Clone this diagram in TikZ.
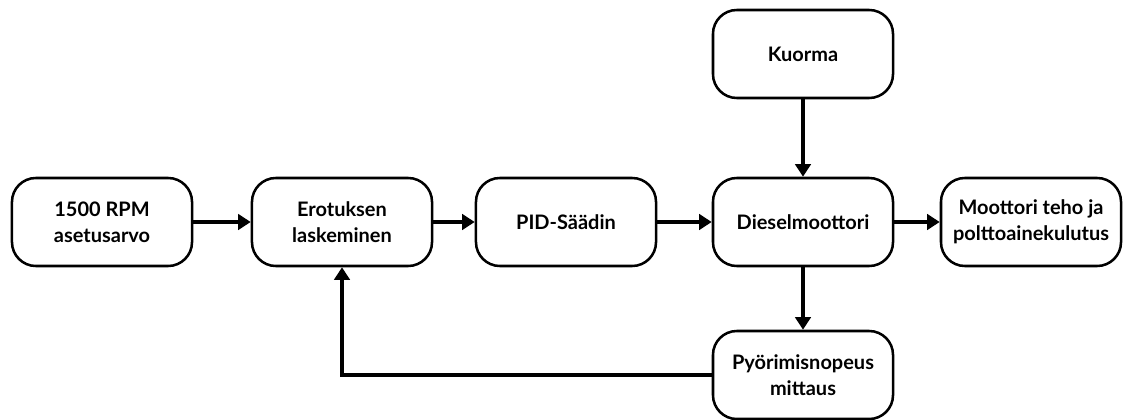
\documentclass[tikz,border=0pt]{standalone}
\usepackage{fontspec}
\setmainfont{Lato}
\usetikzlibrary{arrows.meta}
\tikzset{
	blokki/.style={draw,line width=1.8pt,rounded corners=17pt,minimum width=4.5cm,minimum height=2.2cm,align=center,font=\fontsize{14.2}{18.5}\selectfont\bfseries},
	nuoli/.style={line width=2.6pt,-{Triangle[length=9pt,width=11pt]}}
}
\begin{document}
\begin{tikzpicture}[x=0.025cm,y=-0.025cm]
	\useasboundingbox (0,0) rectangle (1124,420) ;
%%% Lohkot
	\node[blokki] (aset) at (102,222) {1500 RPM\\asetusarvo} ;
	\node[blokki] (ero) at (342,222) {Erotuksen\\laskeminen} ;
	\node[blokki] (pid) at (566,222) {PID-Säädin} ;
	\node[blokki] (diesel) at (803,222) {Dieselmoottori} ;
	\node[blokki] (teho) at (1031,222) {Moottori teho ja\\polttoainekulutus} ;
	\node[blokki] (kuorma) at (803,54) {Kuorma} ;
	\node[blokki] (mittaus) at (803,375) {Pyörimisnopeus\\mittaus} ;
%%% Nuolet
	\draw[nuoli] (aset) -- (ero) ;
	\draw[nuoli] (ero) -- (pid) ;
	\draw[nuoli] (pid) -- (diesel) ;
	\draw[nuoli] (diesel) -- (teho) ;
	\draw[nuoli] (kuorma) -- (diesel) ;
	\draw[nuoli] (diesel) -- (mittaus) ;
%%% Takaisinkytkentä
	\draw[nuoli] (mittaus.west) -| (ero.south) ;
\end{tikzpicture}
\end{document}
